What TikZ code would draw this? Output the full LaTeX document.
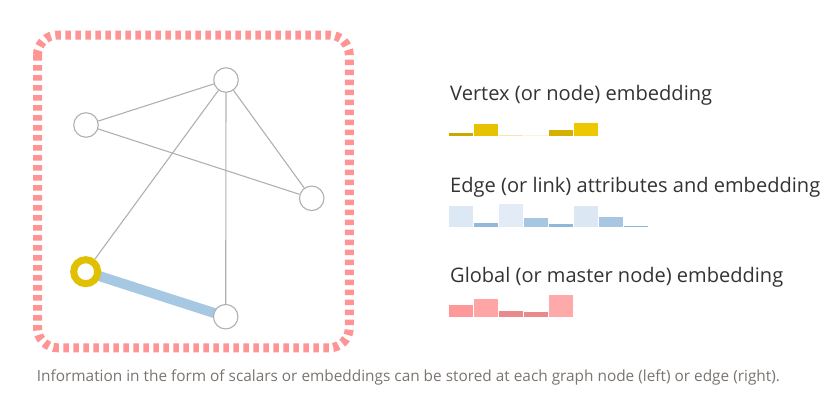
\documentclass[tikz,border=0pt]{standalone}
\usepackage{fontspec}
\setmainfont{Open Sans}
\usetikzlibrary{backgrounds}
\definecolor{framepink}{HTML}{FF9494}
\definecolor{edgegray}{HTML}{B0B0B0}
\definecolor{ringgold}{HTML}{E0C000}
\definecolor{linkblue}{HTML}{A6C8E2}
\definecolor{labelink}{HTML}{333333}
\definecolor{captionink}{HTML}{7A7470}
% bar colours
\definecolor{vA}{HTML}{C9A800}
\definecolor{vB}{HTML}{E6C200}
\definecolor{vC}{HTML}{F3E7AE}
\definecolor{vD}{HTML}{FAF4DC}
\definecolor{vE}{HTML}{D4B000}
\definecolor{vF}{HTML}{EDC800}
\definecolor{eA}{HTML}{DCE8F3}
\definecolor{eB}{HTML}{92B9DC}
\definecolor{eC}{HTML}{E3ECF6}
\definecolor{eD}{HTML}{A6C6E2}
\definecolor{eE}{HTML}{90B6DA}
\definecolor{eF}{HTML}{DBE7F3}
\definecolor{eG}{HTML}{A6C6E2}
\definecolor{eH}{HTML}{8CB3D8}
\definecolor{gA}{HTML}{FF9999}
\definecolor{gB}{HTML}{FFA5A5}
\definecolor{gC}{HTML}{E88A8A}
\definecolor{gD}{HTML}{E88A8A}
\definecolor{gE}{HTML}{FFAAAA}
\newcommand{\fitto}[2]{\resizebox{#1}{!}{#2}}
\tikzset{
  vertex/.style={circle, draw=edgegray, line width=1.1pt, fill=white, minimum size=24.5pt, inner sep=0pt},
  picked/.style={circle, draw=ringgold, line width=7pt, fill=white, minimum size=24pt, inner sep=0pt},
  link/.style={draw=edgegray, line width=1.1pt},
  heavylink/.style={draw=linkblue, line width=10pt},
  label/.style={anchor=base west, inner sep=0pt, text=labelink, font=\fontsize{20}{24}\selectfont}
}
% one bar of an embedding: \embbar{colour}{left x}{base y}{top y}
\newcommand{\embbar}[4]{\fill[#1] (#2+0.4,#3) rectangle (#2+23.6,#4);}
\begin{document}
\begin{tikzpicture}[x=1pt, y=-1pt]
\useasboundingbox (0,0) rectangle (840,407);

% dashed rounded frame around the graph
\draw[framepink, line width=9pt, dash pattern=on 5.5pt off 4.5pt, rounded corners=20pt]
  (37.5,35) rectangle (349.3,347.8);

% graph vertices
\node[vertex] (top)    at (226,80) {};
\node[vertex] (left)   at (86,125) {};
\node[vertex] (right)  at (311.7,198.3) {};
\node[picked] (gold)   at (85.7,271.7) {};
\node[vertex] (bottom) at (225.7,316.7) {};

% graph edges
\begin{scope}[on background layer]
  \draw[link] (top) -- (left);
  \draw[link] (top) -- (right);
  \draw[link] (top) -- (gold);
  \draw[link] (top) -- (bottom);
  \draw[link] (left) -- (right);
  \draw[heavylink] (gold.center) -- (bottom.center);
\end{scope}

% legend labels
\node[label] (vlabel) at (450,100.7) {\fitto{262pt}{Vertex (or node) embedding}};
\node[label] (elabel) at (450,192)   {\fitto{370pt}{Edge (or link) attributes and embedding}};
\node[label] (glabel) at (450,282)   {\fitto{333pt}{Global (or master node) embedding}};

% vertex embedding bars
\embbar{vA}{449}{136}{133.3}
\embbar{vB}{474}{136}{124.3}
\embbar{vC}{499}{136}{134.9}
\embbar{vD}{524}{136}{135.2}
\embbar{vE}{549}{136}{129.6}
\embbar{vF}{574}{136}{123}

% edge embedding bars
\embbar{eA}{449}{227.3}{206}
\embbar{eB}{474}{227.3}{223}
\embbar{eC}{499}{227.3}{203.7}
\embbar{eD}{524}{227.3}{218}
\embbar{eE}{549}{227.3}{223.7}
\embbar{eF}{574}{227.3}{205.7}
\embbar{eG}{599}{227.3}{217}
\embbar{eH}{624}{227.3}{225.5}

% global embedding bars
\embbar{gA}{449}{317.3}{305.4}
\embbar{gB}{474}{317.3}{298.7}
\embbar{gC}{499}{317.3}{311.4}
\embbar{gD}{524}{317.3}{312.4}
\embbar{gE}{549}{317.3}{294.7}

% caption
\node[anchor=base west, inner sep=0pt, text=captionink] (caption) at (36.7,381.3)
  {\fitto{743pt}{Information in the form of scalars or embeddings can be stored at each graph node (left) or edge (right).}};
\end{tikzpicture}
\end{document}
